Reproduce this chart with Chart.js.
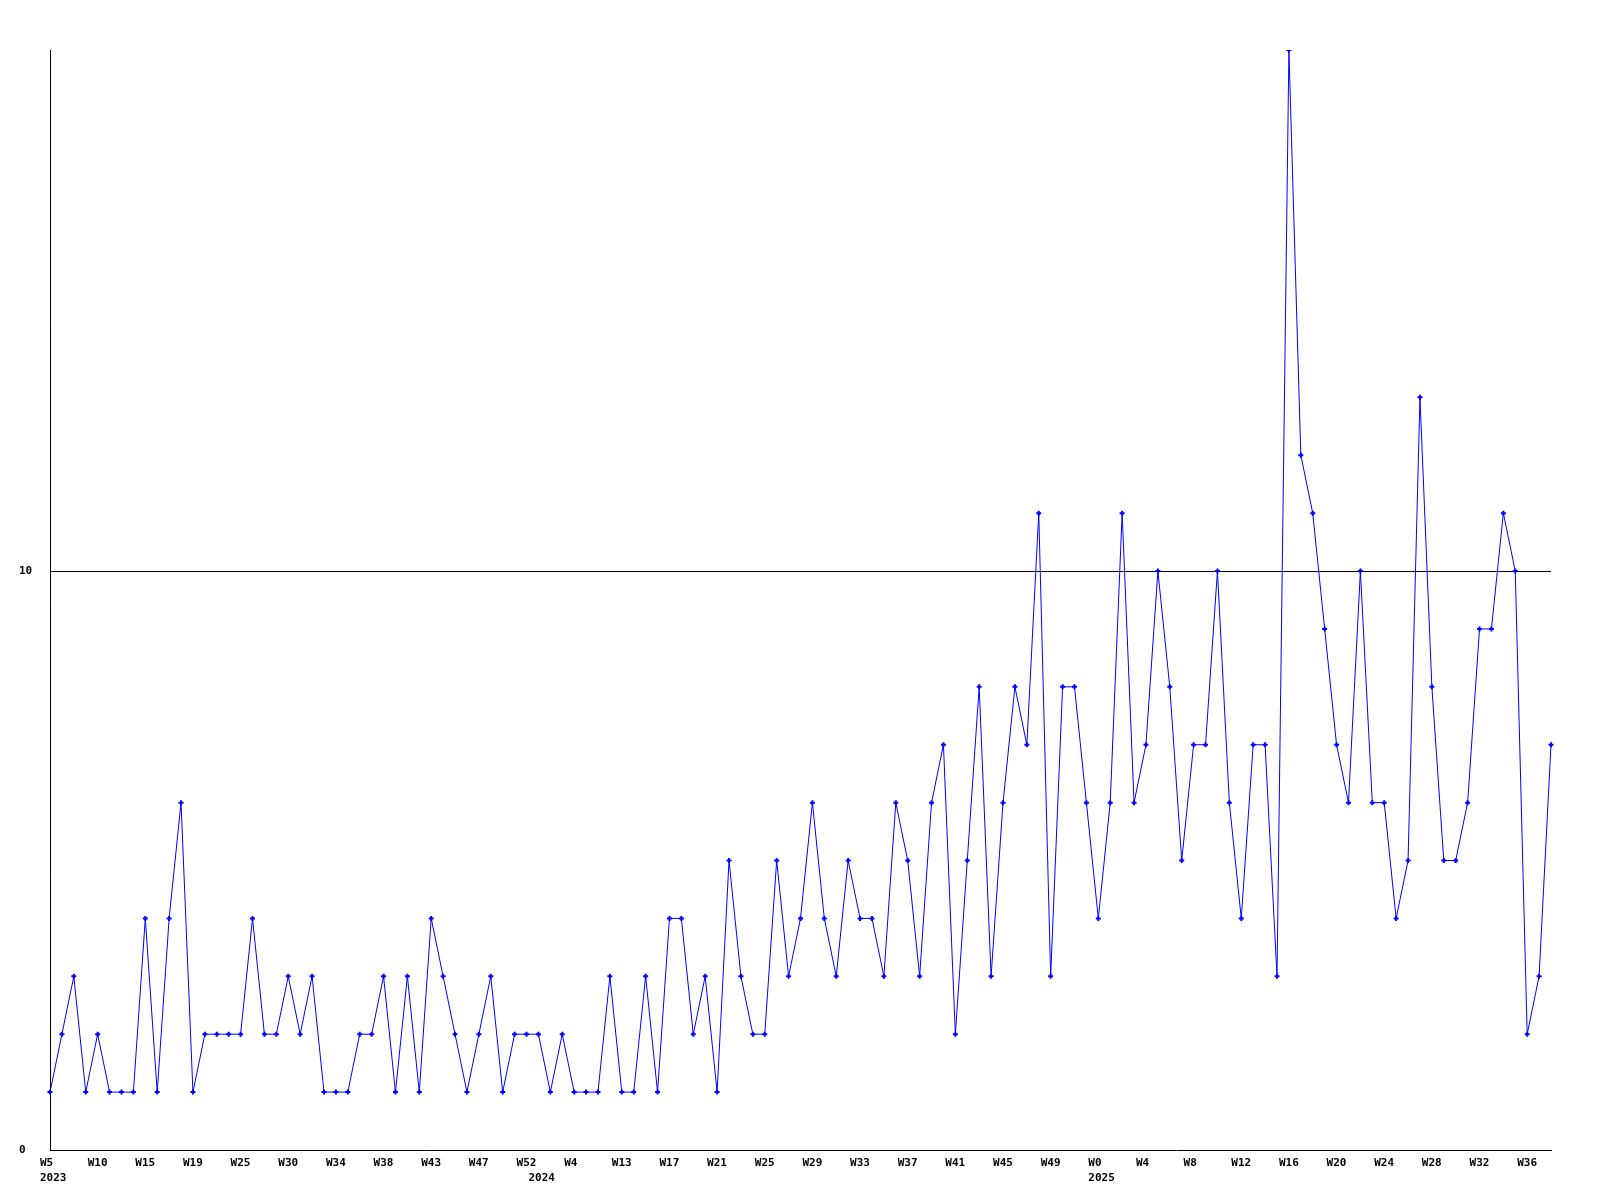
<!DOCTYPE html>
<html>
<head>
<meta charset="utf-8">
<script src="https://cdn.jsdelivr.net/npm/chart.js@4.4.1/dist/chart.umd.min.js"></script>
<style>
    html, body { margin: 0; padding: 0; background: #fff; }
    #wrap { width: 1600px; height: 1200px; position: relative; }
</style>
</head>
<body>
<div id="wrap"><canvas id="weeklyChart"></canvas></div>
<script>
// Weekly counts, one point per week
const weeklyCounts = [
    1, 2, 3, 1, 2, 1, 1, 1, 4, 1, 4, 6, 1, 2, 2, 2,
    2, 4, 2, 2, 3, 2, 3, 1, 1, 1, 2, 2, 3, 1, 3, 1,
    4, 3, 2, 1, 2, 3, 1, 2, 2, 2, 1, 2, 1, 1, 1, 3,
    1, 1, 3, 1, 4, 4, 2, 3, 1, 5, 3, 2, 2, 5, 3, 4,
    6, 4, 3, 5, 4, 4, 3, 6, 5, 3, 6, 7, 2, 5, 8, 3,
    6, 8, 7, 11, 3, 8, 8, 6, 4, 6, 11, 6, 7, 10, 8, 5,
    7, 7, 10, 6, 4, 7, 7, 3, 19, 12, 11, 9, 7, 6, 10, 6,
    6, 4, 5, 13, 8, 5, 5, 6, 9, 9, 11, 10, 2, 3, 7
];

// Week labels shown on every 4th point
const weekTicks = [
    'W5', 'W10', 'W15', 'W19', 'W25', 'W30', 'W34', 'W38',
    'W43', 'W47', 'W52', 'W4', 'W13', 'W17', 'W21', 'W25',
    'W29', 'W33', 'W37', 'W41', 'W45', 'W49', 'W0', 'W4',
    'W8', 'W12', 'W16', 'W20', 'W24', 'W28', 'W32', 'W36'
];
const weekTickStep = 4;

// Year labels and the point index where each year starts
const yearLabels = ['2023', '2024', '2025'];
const yearStarts = [0, 41, 88];

const yTicks = [0, 10];

const monoFont = {
    family: "'DejaVu Sans Mono', monospace",
    size: 11,
    weight: 'bold',
    lineHeight: 1.4
};

function initWeeklyChart() {
    const ctx = document.getElementById('weeklyChart');
    if (!ctx) return;

    try {
        const data = {
            labels: weeklyCounts.map(function (v, i) { return i; }),
            datasets: [{
                label: 'count',
                data: weeklyCounts,
                borderColor: '#0000ff',
                backgroundColor: '#0000ff',
                borderWidth: 1,
                tension: 0,
                fill: false,
                pointStyle: 'cross',
                pointRadius: 2.5,
                pointBorderWidth: 2,
                pointBorderColor: '#0000ff',
                pointHoverRadius: 3
            }]
        };

        const config = {
            type: 'line',
            data: data,
            options: {
                responsive: true,
                maintainAspectRatio: false,
                animation: false,
                layout: {
                    padding: { left: 19, right: 49, top: 50, bottom: 0 }
                },
                plugins: {
                    legend: { display: false },
                    tooltip: { enabled: false }
                },
                scales: {
                    x: {
                        type: 'category',
                        offset: false,
                        grid: {
                            color: 'rgba(0, 0, 0, 0)',
                            drawTicks: false
                        },
                        border: { display: true, color: '#000', width: 1 },
                        afterFit: function (scale) { scale.height = 50; },
                        ticks: {
                            autoSkip: false,
                            maxRotation: 0,
                            minRotation: 0,
                            align: 'start',
                            labelOffset: -10,
                            padding: 5,
                            color: '#000',
                            font: monoFont,
                            callback: function (value, index) {
                                const week = index % weekTickStep === 0 ? (weekTicks[index / weekTickStep] || '') : '';
                                const y = yearStarts.indexOf(index);
                                if (y >= 0) return [week, yearLabels[y]];
                                return week;
                            }
                        }
                    },
                    y: {
                        min: 0,
                        max: 19,
                        afterBuildTicks: function (scale) {
                            scale.ticks = yTicks.map(function (v) { return { value: v }; });
                        },
                        afterFit: function (scale) { scale.width = 31; },
                        grid: {
                            drawTicks: false,
                            lineWidth: 1,
                            color: function (c) {
                                return c.tick && c.tick.value === 10 ? '#000' : 'rgba(0, 0, 0, 0)';
                            }
                        },
                        border: { display: true, color: '#000', width: 1 },
                        ticks: {
                            crossAlign: 'far',
                            color: '#000',
                            font: monoFont
                        }
                    }
                }
            }
        };

        new Chart(ctx, config);
    } catch (error) {
        console.error('Failed to initialize weekly chart:', error);
    }
}

if (document.readyState === 'loading') {
    document.addEventListener('DOMContentLoaded', initWeeklyChart);
} else {
    initWeeklyChart();
}
</script>
</body>
</html>
